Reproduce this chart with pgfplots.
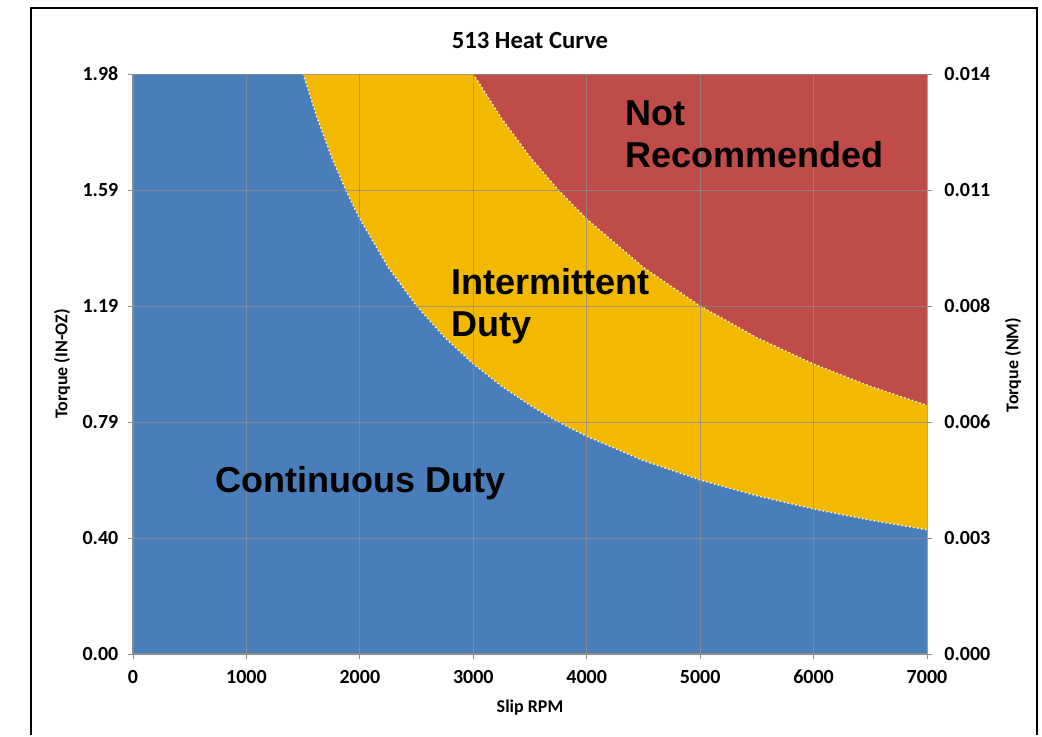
\documentclass[border=0pt]{standalone}
\usepackage{pgfplots}
\usepackage{pgfplotstable}
\pgfplotsset{compat=1.18}
\usepackage{fontspec}
\setmainfont{Carlito}
\newfontfamily\arialfont{Liberation Sans}
\definecolor{cblue}{RGB}{74,126,187}
\definecolor{cyellow}{RGB}{243,185,0}
\definecolor{cred}{RGB}{191,76,73}
\definecolor{cgrid}{RGB}{140,140,140}

% continuous duty boundary
\pgfplotstableread{
x y
0 1.98
1500 1.98
1625 1.828
1750 1.697
1875 1.584
2000 1.485
2250 1.320
2500 1.188
2750 1.080
3000 0.990
3250 0.914
3500 0.849
3750 0.792
4000 0.743
4500 0.660
5000 0.594
5500 0.540
6000 0.495
6500 0.457
7000 0.424
}\curveA
% intermittent duty boundary
\pgfplotstableread{
x y
0 1.98
3000 1.98
3250 1.828
3500 1.697
3750 1.584
4000 1.485
4500 1.320
5000 1.188
5500 1.080
6000 0.990
6500 0.914
7000 0.849
}\curveB
\pgfplotstableread{
x y
0 1.98
7000 1.98
}\topline

\begin{document}
\begin{tikzpicture}
\begin{scope}[x=0.75pt,y=-0.75pt]
\path[fill=white] (0,0) rectangle (1042,731);
\draw[line width=1.5pt] (31,735) -- (31,8) -- (1037,8) -- (1037,735);
\end{scope}

\begin{axis}[
  at={(99.75pt,-490.5pt)}, anchor=south west,
  scale only axis, width=595.5pt, height=435pt,
  xmin=0, xmax=7000, ymin=0, ymax=1.98,
  xtick={0,1000,...,7000},
  ytick={0,0.396,0.792,1.188,1.584,1.98},
  yticklabels={0.00,0.40,0.79,1.19,1.59,1.98},
  /pgf/number format/1000 sep={},
  /pgf/number format/assume math mode=true,
  axis y line*=left, axis x line*=bottom,
  tick align=outside, major tick length=3.5pt,
  tick style={cgrid, line width=0.6pt},
  axis line style={cgrid, line width=0.8pt},
  grid=major, grid style={cgrid, line width=0.6pt, opacity=0.75},
  axis on top,
  ticklabel style={font=\bfseries\fontsize{15}{18}\selectfont},
  xticklabel style={yshift=-5pt},
  yticklabel style={xshift=-4pt},
  clip=true,
]
\addplot[fill=cred, draw=none] table {\topline} \closedcycle;
\addplot[fill=cyellow, draw=none] table {\curveB} \closedcycle;
\addplot[fill=cblue, draw=none] table {\curveA} \closedcycle;
\addplot[white, line width=1pt, dash pattern=on 1pt off 2pt, restrict x to domain=1500:7000] table {\curveA};
\addplot[white, line width=1pt, dash pattern=on 1pt off 2pt, restrict x to domain=3000:7000] table {\curveB};
\end{axis}

\begin{axis}[
  at={(99.75pt,-490.5pt)}, anchor=south west,
  scale only axis, width=595.5pt, height=435pt,
  xmin=0, xmax=7000, ymin=0, ymax=1.98,
  axis y line*=right, axis x line=none,
  ytick={0,0.396,0.792,1.188,1.584,1.98},
  yticklabels={0.000,0.003,0.006,0.008,0.011,0.014},
  /pgf/number format/assume math mode=true,
  tick align=outside, major tick length=3.5pt,
  tick style={cgrid, line width=0.6pt},
  axis line style={draw=none},
  ticklabel style={font=\bfseries\fontsize{15}{18}\selectfont},
  yticklabel style={xshift=6pt},
]
\addplot[draw=none] coordinates {(0,0)};
\end{axis}

\begin{scope}[x=0.75pt,y=-0.75pt]
% titles
\node[font=\bfseries\fontsize{18.5}{22}\selectfont] at (530,40) {513 Heat Curve};
\node[font=\bfseries\fontsize{13.5}{16}\selectfont] at (530,708) {Slip RPM};
\node[font=\bfseries\fontsize{13.5}{16}\selectfont, rotate=90] at (62,364) {Torque (IN-OZ)};
\node[font=\bfseries\fontsize{13.5}{16}\selectfont, rotate=90] at (1013,365) {Torque (NM)};

% region labels
\node[font=\arialfont\bfseries\fontsize{27}{31.5}\selectfont, anchor=west, align=left] at (621,134) {Not\\Recommended};
\node[font=\arialfont\bfseries\fontsize{27}{31.5}\selectfont, anchor=west, align=left] at (447,306) {Intermittent\\Duty};
\node[font=\arialfont\bfseries\fontsize{27}{31.5}\selectfont, anchor=west] at (211,483) {Continuous Duty};
\end{scope}
\end{tikzpicture}
\end{document}
